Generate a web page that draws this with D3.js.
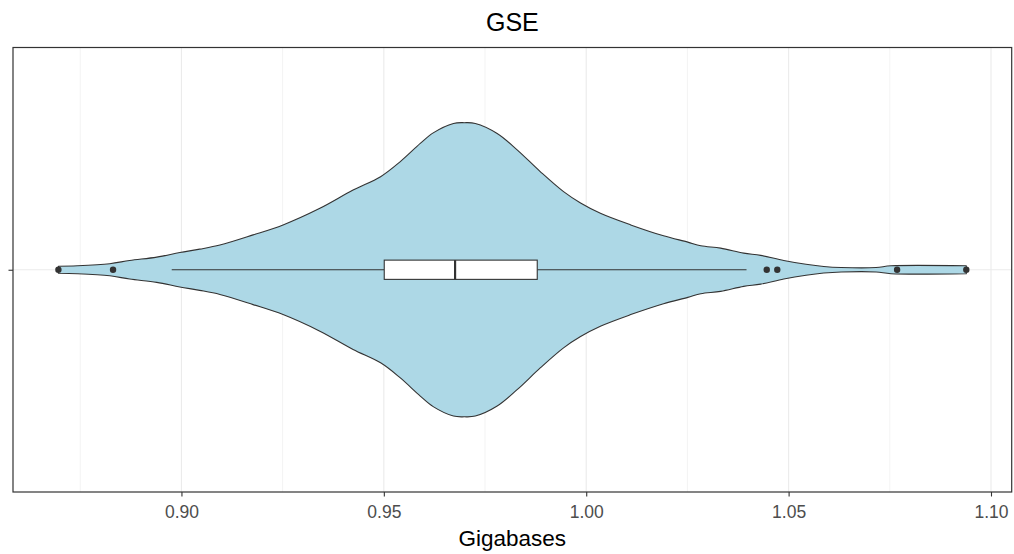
<!DOCTYPE html>
<html>
<head>
<meta charset="utf-8">
<script src="https://cdn.jsdelivr.net/npm/d3@7"></script>
<style>
  html, body { margin: 0; padding: 0; background: #fff; }
  svg { display: block; }
  text { font-family: "Liberation Sans", Arial, sans-serif; }
</style>
</head>
<body>
<svg id="chart" width="1014" height="554"></svg>
<script>
// ---- data ----
const category = "GSE";
const xTicks = [0.90, 0.95, 1.00, 1.05, 1.10];
const xMinorTicks = [0.875, 0.925, 0.975, 1.025, 1.075];
// violin outline: Gigabases value and relative density (1 = peak)
const violinX = [0.8696, 0.8743, 0.8823, 0.8872, 0.8939, 0.8996, 0.9045, 0.9095, 0.9177, 0.9251,
                 0.9342, 0.9424, 0.9492, 0.9540, 0.9590, 0.9622, 0.9672, 0.9699, 0.9726, 0.9780,
                 0.9830, 0.9887, 0.9944, 0.9986, 1.0035, 1.0110, 1.0191, 1.0251, 1.0283, 1.0332,
                 1.0389, 1.0431, 1.0488, 1.0543, 1.0587, 1.0630, 1.0716, 1.0753, 1.0939];
const violinDensity = [0.024, 0.027, 0.041, 0.063, 0.086, 0.117, 0.140, 0.168, 0.237, 0.305,
                       0.418, 0.542, 0.633, 0.734, 0.859, 0.931, 0.995, 1.000, 0.995, 0.927,
                       0.814, 0.666, 0.531, 0.454, 0.384, 0.305, 0.231, 0.188, 0.163, 0.147,
                       0.113, 0.098, 0.063, 0.037, 0.022, 0.015, 0.015, 0.027, 0.027];
// boxplot statistics
const boxStats = { lower: 0.8976, q1: 0.9501, median: 0.9676, q3: 0.9879, upper: 1.0396 };
const outliers = [0.8696, 0.8831, 1.0446, 1.0472, 1.0768, 1.0939];

// ---- layout ----
const W = 1014, H = 554;
const panel = { left: 13, right: 1011.7, top: 47.5, bottom: 492 };
const svg = d3.select("#chart");

const dataMin = d3.min([...violinX, ...outliers]);
const dataMax = d3.max([...violinX, ...outliers]);
const pad = (dataMax - dataMin) * 0.05;
const x = d3.scaleLinear().domain([dataMin - pad, dataMax + pad]).range([panel.left, panel.right]);
// discrete y axis, one level at 1, limits 0.4..1.6
const y = d3.scaleLinear().domain([0.4, 1.6]).range([panel.bottom, panel.top]);
const yPos = 1;
const violinHalf = 0.397;   // in y units
const boxHalf = 0.026;      // in y units
const dens = d3.scaleLinear().domain([0, 1]).range([0, violinHalf]);

// panel background
svg.append("rect").attr("x", panel.left).attr("y", panel.top)
  .attr("width", panel.right - panel.left).attr("height", panel.bottom - panel.top)
  .attr("fill", "#fff");

// grid
const grid = svg.append("g");
grid.selectAll(".minor").data(xMinorTicks).enter().append("line")
  .attr("x1", d => x(d)).attr("x2", d => x(d))
  .attr("y1", panel.top).attr("y2", panel.bottom)
  .attr("stroke", "#EBEBEB").attr("stroke-width", 0.6);
grid.selectAll(".major").data(xTicks).enter().append("line")
  .attr("x1", d => x(d)).attr("x2", d => x(d))
  .attr("y1", panel.top).attr("y2", panel.bottom)
  .attr("stroke", "#EBEBEB").attr("stroke-width", 1.1);
grid.append("line")
  .attr("x1", panel.left).attr("x2", panel.right)
  .attr("y1", y(yPos)).attr("y2", y(yPos))
  .attr("stroke", "#EBEBEB").attr("stroke-width", 1.1);

// violin
const vdata = violinX.map((v, i) => ({ v, d: violinDensity[i] }));
const area = d3.area()
  .x(d => x(d.v))
  .y0(d => y(yPos - dens(d.d)))
  .y1(d => y(yPos + dens(d.d)))
  .curve(d3.curveCatmullRom.alpha(0.5));
svg.append("path").datum(vdata)
  .attr("d", area)
  .attr("fill", "#ADD8E6")
  .attr("stroke", "#333333")
  .attr("stroke-width", 1.1)
  .attr("stroke-linejoin", "round");

// boxplot
const bg = svg.append("g");
const cy = y(yPos);
bg.append("line").attr("x1", x(boxStats.lower)).attr("x2", x(boxStats.q1))
  .attr("y1", cy).attr("y2", cy).attr("stroke", "#333").attr("stroke-width", 1.1);
bg.append("line").attr("x1", x(boxStats.q3)).attr("x2", x(boxStats.upper))
  .attr("y1", cy).attr("y2", cy).attr("stroke", "#333").attr("stroke-width", 1.1);
bg.append("rect")
  .attr("x", x(boxStats.q1)).attr("width", x(boxStats.q3) - x(boxStats.q1))
  .attr("y", y(yPos + boxHalf)).attr("height", y(yPos - boxHalf) - y(yPos + boxHalf))
  .attr("fill", "#fff").attr("stroke", "#333").attr("stroke-width", 1.1);
bg.append("line").attr("x1", x(boxStats.median)).attr("x2", x(boxStats.median))
  .attr("y1", y(yPos + boxHalf)).attr("y2", y(yPos - boxHalf))
  .attr("stroke", "#333").attr("stroke-width", 2.2);
bg.selectAll("circle").data(outliers).enter().append("circle")
  .attr("cx", d => x(d)).attr("cy", cy).attr("r", 3.2).attr("fill", "#333");

// panel border
svg.append("rect").attr("x", panel.left).attr("y", panel.top)
  .attr("width", panel.right - panel.left).attr("height", panel.bottom - panel.top)
  .attr("fill", "none").attr("stroke", "#333").attr("stroke-width", 1.2);

// x axis
const xAxis = d3.axisBottom(x).tickValues(xTicks).tickFormat(d3.format(".2f")).tickSize(4.5).tickPadding(9);
const gx = svg.append("g").attr("transform", `translate(0,${panel.bottom})`).call(xAxis);
gx.select(".domain").remove();
gx.selectAll(".tick line").attr("stroke", "#333").attr("stroke-width", 1.1);
gx.selectAll(".tick text").attr("fill", "#4D4D4D").style("font-size", "17.5px")
  .style("font-family", "'Liberation Sans', Arial, sans-serif");

// y axis (single unlabeled category)
const yAxis = d3.axisLeft(d3.scalePoint().domain([""]).range([y(yPos), y(yPos)])).tickSize(4.5);
const gy = svg.append("g").attr("transform", `translate(${panel.left},0)`).call(yAxis);
gy.select(".domain").remove();
gy.selectAll(".tick line").attr("stroke", "#333").attr("stroke-width", 1.1);

// titles
svg.append("text").attr("x", (panel.left + panel.right) / 2).attr("y", 31)
  .attr("text-anchor", "middle").style("font-size", "25px").attr("fill", "#000").text(category);
svg.append("text").attr("x", (panel.left + panel.right) / 2).attr("y", 546)
  .attr("text-anchor", "middle").style("font-size", "22.5px").attr("fill", "#000").text("Gigabases");
</script>
</body>
</html>
